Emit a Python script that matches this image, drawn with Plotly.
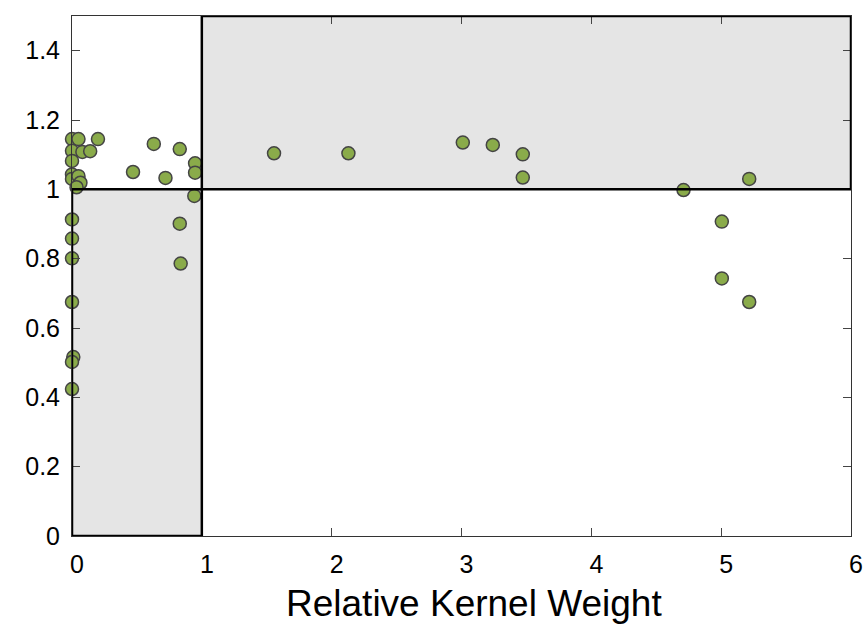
import plotly.graph_objects as go

# Relative kernel weight (x) and normalized speedup (y) for each kernel
weight = [0.0, 0.05, 0.20, 0.0, 0.08, 0.14, 0.0, 0.0, 0.0, 0.05, 0.065, 0.035,
          0.47, 0.63, 0.72, 0.83, 0.948, 0.948, 0.942, 0.83, 0.837,
          0.0, 0.0, 0.0, 0.0, 0.01, 0.0, 0.0,
          1.556, 2.129, 3.01, 3.241, 3.472, 3.472,
          4.71, 5.216, 5.005, 5.005, 5.216]
speedup = [1.145, 1.145, 1.145, 1.111, 1.108, 1.110, 1.082, 1.043, 1.030, 1.038, 1.019, 1.006,
           1.050, 1.131, 1.033, 1.116, 1.075, 1.048, 0.981, 0.901, 0.786,
           0.913, 0.858, 0.801, 0.675, 0.516, 0.502, 0.424,
           1.104, 1.104, 1.135, 1.128, 1.101, 1.034,
           0.998, 1.030, 0.907, 0.743, 0.675]

x_ticks = [0, 1, 2, 3, 4, 5, 6]
y_ticks = [0, 0.2, 0.4, 0.6, 0.8, 1.0, 1.2, 1.4]
y_labels = ["0", "0.2", "0.4", "0.6", "0.8", "1", "1.2", "1.4"]
x_range = [0, 6]
y_range = [0, 1.5]
weight_cut = 1.0
speedup_cut = 1.0
x_title = "Relative Kernel Weight"

fig = go.Figure()

fig.add_trace(go.Scatter(
    x=weight, y=speedup, mode="markers",
    marker=dict(size=13, color="#8aab4a", line=dict(color="#444444", width=1.5)),
    cliponaxis=False, showlegend=False,
))

# Shaded quadrants
shade = "#e5e5e5"
fig.add_shape(type="rect", x0=x_range[0], x1=weight_cut, y0=y_range[0], y1=speedup_cut,
              fillcolor=shade, line_width=0, layer="below")
fig.add_shape(type="rect", x0=weight_cut, x1=x_range[1], y0=speedup_cut, y1=y_range[1],
              fillcolor=shade, line_width=0, layer="below")
# Quadrant outlines
fig.add_shape(type="rect", x0=x_range[0], x1=weight_cut, y0=y_range[0], y1=speedup_cut,
              line=dict(color="black", width=2.5), layer="above")
fig.add_shape(type="rect", x0=weight_cut, x1=x_range[1], y0=speedup_cut, y1=y_range[1],
              line=dict(color="black", width=2.5), layer="above")

font_family = "Liberation Sans, Arial"
axis_common = dict(
    showline=True, linecolor="#333333", linewidth=1, mirror="ticks",
    ticks="inside", ticklen=8, tickcolor="#444444", tickwidth=1,
    showgrid=False, zeroline=False, automargin=False,
    tickfont=dict(family=font_family, size=25, color="black"),
)

fig.update_xaxes(range=x_range, tickvals=x_ticks, ticktext=[str(v) for v in x_ticks],
                 ticklabelshift=5, ticklabelstandoff=6, **axis_common)
fig.update_yaxes(range=y_range, tickvals=y_ticks, ticktext=y_labels,
                 ticklabelstandoff=6, **axis_common)

# x-axis title
fig.add_annotation(text=x_title, xref="paper", yref="paper", x=0.5, y=0,
                   xanchor="center", yanchor="middle", xshift=12, yshift=-67,
                   showarrow=False,
                   font=dict(family=font_family, size=37, color="black"))

fig.update_layout(
    width=865, height=624,
    margin=dict(l=72, r=14, t=16, b=88),
    plot_bgcolor="white", paper_bgcolor="white",
    font=dict(family=font_family),
)

fig.write_html("out.html")
